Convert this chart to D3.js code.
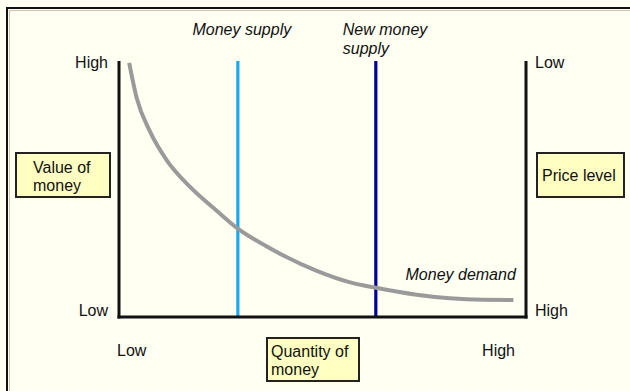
<!DOCTYPE html>
<html>
<head>
<meta charset="utf-8">
<script src="https://cdn.jsdelivr.net/npm/d3@7"></script>
<style>
  html, body { margin: 0; padding: 0; background: #fffff2; }
  svg { display: block; }
  text { font-family: "Liberation Sans", Arial, Helvetica, sans-serif; fill: #111; }
</style>
</head>
<body>
<svg id="chart" width="630" height="391"></svg>
<script>
// ---- Data ----
const demandQuantity = [2.5, 4.35, 7.6, 11.7, 17.4, 24.0, 29.2, 36.0, 40.4, 48.6, 56.8, 63.1, 73.1, 81.3, 89.4, 96.9];
const demandValue    = [99.3, 85.5, 72.5, 61.3, 50.9, 41.5, 34.5, 27.8, 24.0, 18.0, 13.5, 11.4, 8.7, 7.3, 6.7, 6.6];
const supplyNames    = ["Money supply", "New money supply"];
const supplyQuantity = [29.2, 63.1];
const leftTickLabels  = ["Low", "High"];   // value of money
const rightTickLabels = ["High", "Low"];   // price level
const bottomTickLabels = ["Low", "High"];  // quantity of money
const tickValues = [0, 100];

const svg = d3.select("#chart");
const W = 630, H = 391;

// background + frame
svg.append("rect").attr("x", 0).attr("y", 0).attr("width", W).attr("height", H).attr("fill", "#fffff2");
svg.append("rect").attr("x", 7).attr("y", 8).attr("width", W + 10).attr("height", H + 10)
  .attr("fill", "none").attr("stroke", "#111").attr("stroke-width", 2);
svg.append("path").attr("d", `M9,10.5H${W}M9.5,10V${H}`).attr("stroke", "#d9c0ac").attr("stroke-width", 1).attr("fill", "none");

// scales
const x = d3.scaleLinear().domain([0, 100]).range([119, 526]);
const y = d3.scaleLinear().domain([0, 100]).range([317, 61]);

// supply lines
const supplyColors = ["#1aa8f2", "#00009a"];
svg.selectAll("line.supply").data(supplyQuantity).join("line")
  .attr("class", "supply")
  .attr("x1", d => x(d)).attr("x2", d => x(d))
  .attr("y1", y(100)).attr("y2", y(0))
  .attr("stroke", (d, i) => supplyColors[i]).attr("stroke-width", 3.2);

// demand curve
const pts = demandQuantity.map((q, i) => [q, demandValue[i]]);
svg.append("path").datum(pts)
  .attr("d", d3.line().x(d => x(d[0])).y(d => y(d[1])).curve(d3.curveMonotoneX))
  .attr("fill", "none").attr("stroke", "#9a9a9a").attr("stroke-width", 4);

// axes (no ticks; lines drawn via scales)
const axisStroke = "#111";
svg.append("line").attr("x1", x(0)).attr("x2", x(0)).attr("y1", y(100)).attr("y2", y(0) + 1.5)
  .attr("stroke", axisStroke).attr("stroke-width", 3);
svg.append("line").attr("x1", x(100)).attr("x2", x(100)).attr("y1", y(100)).attr("y2", y(0) + 1.5)
  .attr("stroke", axisStroke).attr("stroke-width", 3);
svg.append("line").attr("x1", x(0) - 1.5).attr("x2", x(100) + 1.5).attr("y1", y(0)).attr("y2", y(0))
  .attr("stroke", axisStroke).attr("stroke-width", 3);

const fs = 16;
// left tick labels
svg.selectAll("text.lt").data(tickValues).join("text")
  .attr("class", "lt")
  .attr("x", x(0) - 11).attr("y", d => d === 100 ? y(d) + 7 : y(d) - 1)
  .attr("text-anchor", "end").attr("font-size", fs)
  .text((d, i) => leftTickLabels[i]);
// right tick labels
svg.selectAll("text.rt").data(tickValues).join("text")
  .attr("class", "rt")
  .attr("x", x(100) + 9).attr("y", d => d === 100 ? y(d) + 7 : y(d) - 1)
  .attr("text-anchor", "start").attr("font-size", fs)
  .text((d, i) => rightTickLabels[i]);
// bottom tick labels
svg.selectAll("text.bt").data(tickValues).join("text")
  .attr("class", "bt")
  .attr("x", d => d === 0 ? x(d) - 2 : x(d) - 11).attr("y", y(0) + 39)
  .attr("text-anchor", d => d === 0 ? "start" : "end").attr("font-size", fs)
  .text((d, i) => bottomTickLabels[i]);

// series labels
svg.append("text").attr("x", x(supplyQuantity[0]) + 4).attr("y", 35)
  .attr("text-anchor", "middle").attr("font-style", "italic").attr("font-size", fs)
  .text(supplyNames[0]);
const nm = svg.append("text").attr("y", 35)
  .attr("font-style", "italic").attr("font-size", fs);
nm.append("tspan").attr("x", x(supplyQuantity[1]) - 33).text("New money");
nm.append("tspan").attr("x", x(supplyQuantity[1]) - 33).attr("dy", 19).text("supply");
svg.append("text").attr("x", x(97.5)).attr("y", 280)
  .attr("text-anchor", "end").attr("font-style", "italic").attr("font-size", fs)
  .text("Money demand");

// boxed axis titles
function box(x0, y0, w, h, lines, tx, ty, lh) {
  svg.append("rect").attr("x", x0).attr("y", y0).attr("width", w).attr("height", h)
    .attr("fill", "#ffffc2").attr("stroke", "#222").attr("stroke-width", 2);
  const t = svg.append("text").attr("font-size", fs);
  lines.forEach((l, i) => t.append("tspan").attr("x", tx).attr("y", ty + i * lh).text(l));
}
box(16, 153, 94, 44, ["Value of", "money"], 33, 173, 18);
box(537, 153, 87, 44, ["Price level"], 542, 181, 18);
box(267, 338, 92, 43, ["Quantity of", "money"], 271, 357, 18);
</script>
</body>
</html>
